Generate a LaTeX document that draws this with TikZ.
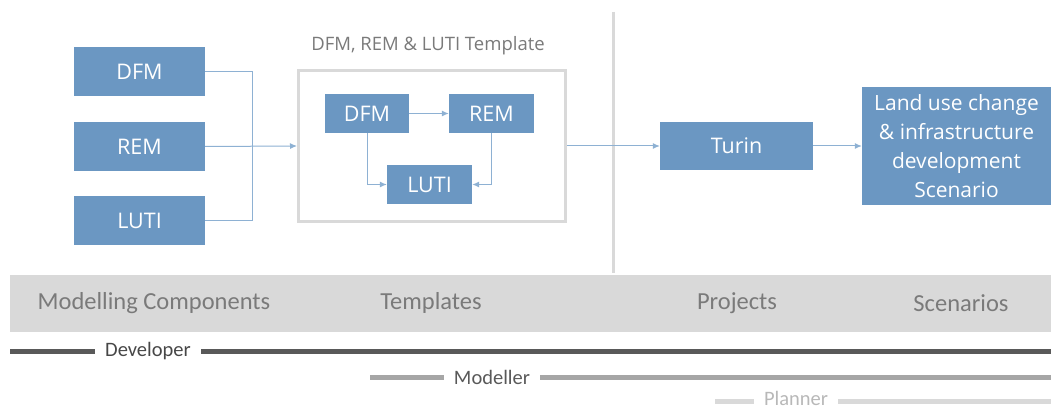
\documentclass[tikz,border=0pt]{standalone}
\usepackage{fontspec}
\setmainfont{Open Sans}
\newfontfamily\bandfont{Carlito}
\usetikzlibrary{arrows.meta}
\usetikzlibrary{positioning}

\definecolor{boxblue}{HTML}{6B97C2}
\definecolor{linkblue}{HTML}{8EB1D3}
\definecolor{bandgrey}{HTML}{D9D9D9}
\definecolor{labelgrey}{HTML}{7A7A7A}
\definecolor{devgrey}{HTML}{595959}
\definecolor{modgrey}{HTML}{A6A6A6}
\definecolor{plangrey}{HTML}{D9D9D9}

\begin{document}
\begin{tikzpicture}[x=1pt, y=-1pt,
    comp/.style={fill=boxblue, text=white, inner sep=0pt,
      font=\fontsize{21.5}{29}\selectfont},
    link/.style={draw=linkblue, line width=1pt},
    tip/.style={-{Latex[length=7pt,width=6pt]}},
    bandlabel/.style={text=labelgrey, font=\bandfont\fontsize{24.5}{28}\selectfont},
    role/.style={font=\bandfont\fontsize{20.5}{24}\selectfont, inner sep=0pt}]

  \useasboundingbox (0,0) rectangle (1051,411);

  % modelling components
  \node [comp, minimum width=131, minimum height=49] (dfm) at (139.5,72) {DFM};
  \node [comp, minimum width=131, minimum height=49] (rem) at (139.5,146.5) {REM};
  \node [comp, minimum width=131, minimum height=49] (luti) at (139.5,221) {LUTI};

  % template
  \node [draw=bandgrey, line width=3pt, minimum width=267, minimum height=151,
    inner sep=0pt] (tmpl) at (432,146) {};
  \node [text=labelgrey, font=\fontsize{18.5}{22}\selectfont] (tmpltitle) at (428,46)
    {DFM, REM \& LUTI Template};
  \node [comp, minimum width=84, minimum height=39] (tdfm) at (367,113.5) {DFM};
  \node [comp, minimum width=85, minimum height=39] (trem) at (491.5,113.5) {REM};
  \node [comp, minimum width=85, minimum height=39] (tluti) at (429.5,184.5) {LUTI};

  % project and scenario
  \node [comp, minimum width=153, minimum height=48] (turin) at (736.5,146) {Turin};
  \node [comp, minimum width=189, minimum height=118, align=center,
    font=\fontsize{21}{29}\selectfont]
    (scen) at (956.5,146)
    {Land use change\\\& infrastructure\\development\\Scenario};

  \draw [bandgrey, line width=3pt] (613,12) -- (613,273);

  % connectors
  \coordinate (join) at (252,146.5);
  \draw [link] (dfm.east) -| (join);
  \draw [link] (luti.east) -| (join);
  \draw [link, tip] (rem.east) -- (tmpl.west);
  \draw [link, tip] (tdfm.east) -- (trem.west);
  \draw [link, tip] (tdfm.south) |- (tluti.west);
  \draw [link, tip] (trem.south) |- (tluti.east);
  \draw [link, tip] (tmpl.east) -- (turin.west);
  \draw [link, tip] (turin.east) -- (scen.west);

  % stages
  \fill [bandgrey] (10,275) rectangle (1051,332);
  \node [bandlabel] (stcomp) at (154,303) {Modelling Components};
  \node [bandlabel] (sttmpl) at (431,303) {Templates};
  \node [bandlabel] (stproj) at (737,303) {Projects};
  \node [bandlabel] (stscen) at (961,303) {Scenarios};

  % user roles
  \node [role, text=devgrey!80!black] (dev) at (148,351) {Developer};
  \draw [devgrey, line width=5pt] (10,351) -- ([xshift=-10pt]dev.west);
  \draw [devgrey, line width=5pt] ([xshift=10pt]dev.east) -- (1051,351);

  \node [role, text=devgrey] (mod) at (492,377) {Modeller};
  \draw [modgrey, line width=5pt] (370,377) -- ([xshift=-10pt]mod.west);
  \draw [modgrey, line width=5pt] ([xshift=10pt]mod.east) -- (1051,377);

  \node [role, text=modgrey!80] (plan) at (796,398) {Planner};
  \draw [plangrey, line width=5pt] (715,401) -- ([xshift=-10pt]plan.west |- 0,401);
  \draw [plangrey, line width=5pt] ([xshift=10pt]plan.east |- 0,401) -- (1051,401);

\end{tikzpicture}
\end{document}
